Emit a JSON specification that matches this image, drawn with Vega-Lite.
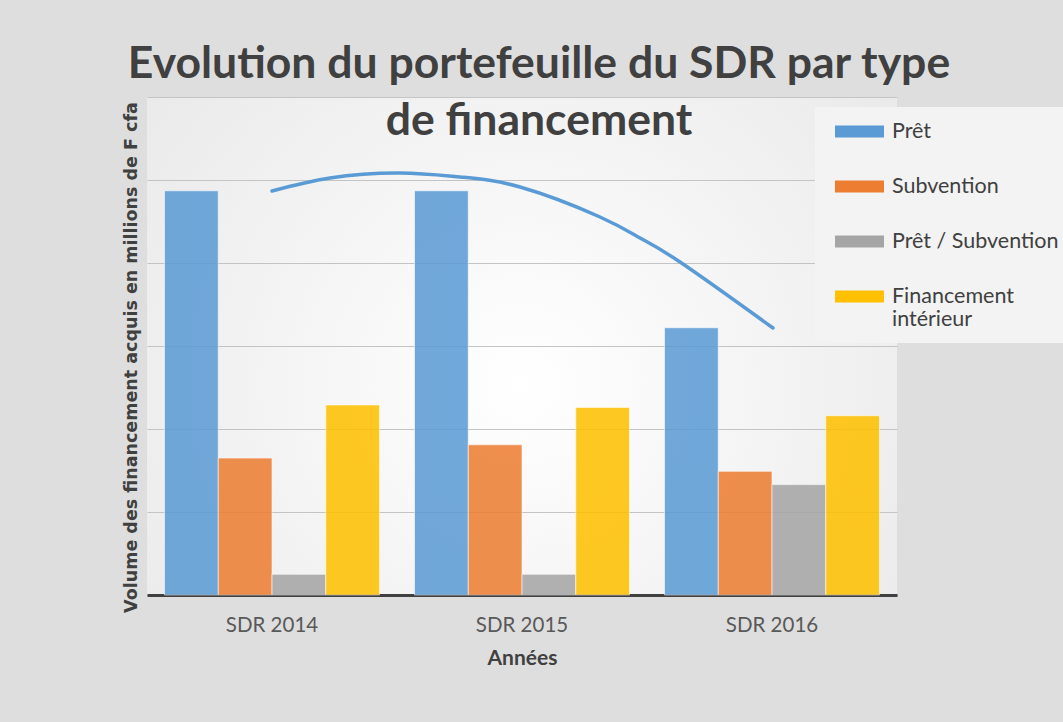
{
  "$schema": "https://vega.github.io/schema/vega-lite/v6.json",
  "width": 750,
  "height": 498,
  "autosize": {"type": "none"},
  "padding": {"left": 147, "top": 97, "right": 166, "bottom": 127},
  "background": "#dedede",
  "config": {
    "font": "Lato",
    "view": {
      "stroke": null,
      "fill": {"gradient": "radial", "x1": 0.5, "y1": 0.55, "r1": 0, "x2": 0.5, "y2": 0.55, "r2": 0.75,
        "stops": [{"offset": 0, "color": "#ffffff"}, {"offset": 1, "color": "#e6e6e6"}]}
    }
  },
  "title": {
    "text": ["Evolution du portefeuille du SDR par type", "de financement"],
    "font": "Lato",
    "fontSize": 44.5,
    "fontWeight": "bold",
    "color": "#404040",
    "lineHeight": 57,
    "anchor": "middle",
    "frame": "group",
    "dx": 17,
    "offset": -47
  },
  "datasets": {
    "bars": [
      {"annee": "SDR 2014", "type": "Prêt", "valeur": 4.87},
      {"annee": "SDR 2014", "type": "Subvention", "valeur": 1.65},
      {"annee": "SDR 2014", "type": "Prêt / Subvention", "valeur": 0.25},
      {"annee": "SDR 2014", "type": "Financement intérieur", "valeur": 2.29},
      {"annee": "SDR 2015", "type": "Prêt", "valeur": 4.87},
      {"annee": "SDR 2015", "type": "Subvention", "valeur": 1.81},
      {"annee": "SDR 2015", "type": "Prêt / Subvention", "valeur": 0.25},
      {"annee": "SDR 2015", "type": "Financement intérieur", "valeur": 2.26},
      {"annee": "SDR 2016", "type": "Prêt", "valeur": 3.22},
      {"annee": "SDR 2016", "type": "Subvention", "valeur": 1.49},
      {"annee": "SDR 2016", "type": "Prêt / Subvention", "valeur": 1.33},
      {"annee": "SDR 2016", "type": "Financement intérieur", "valeur": 2.16}
    ],
    "courbe": [
      {"px": 0.500, "py": 4.867},
      {"px": 0.732, "py": 5.024},
      {"px": 1.012, "py": 5.084},
      {"px": 1.252, "py": 5.036},
      {"px": 1.492, "py": 4.916},
      {"px": 1.812, "py": 4.554},
      {"px": 1.972, "py": 4.301},
      {"px": 2.132, "py": 4.012},
      {"px": 2.504, "py": 3.217}
    ]
  },
  "layer": [
    {
      "data": {"name": "bars"},
      "mark": {"type": "bar", "opacity": 0.86, "stroke": "#ffffff", "strokeWidth": 1, "strokeOpacity": 0.6},
      "encoding": {
        "x": {
          "field": "annee", "type": "nominal", "sort": null,
          "scale": {"paddingInner": 0.14, "paddingOuter": 0.07},
          "title": "Années",
          "axis": {
            "labelAngle": 0, "labelFont": "Lato", "labelFontSize": 20.5, "labelColor": "#595959",
            "labelPadding": 20, "ticks": false, "domainColor": "#404040", "domainWidth": 3,
            "titleFont": "Lato", "titleFontSize": 21, "titleFontWeight": "bold", "titleColor": "#404040",
            "titlePadding": 12
          }
        },
        "xOffset": {
          "field": "type", "type": "nominal",
          "sort": ["Prêt", "Subvention", "Prêt / Subvention", "Financement intérieur"],
          "scale": {"paddingInner": 0, "paddingOuter": 0}
        },
        "y": {
          "field": "valeur", "type": "quantitative",
          "scale": {"domain": [0, 6], "nice": false},
          "title": "Volume des financement acquis en millions de F cfa",
          "axis": {
            "labels": false, "ticks": false, "domain": false, "tickCount": 6,
            "gridColor": "#c4c4c4", "gridWidth": 1,
            "titleFont": "DejaVu Sans", "titleFontSize": 17.5, "titleFontWeight": "bold", "titleColor": "#404040",
            "titlePadding": 7, "titleY": 260
          }
        },
        "color": {
          "field": "type", "type": "nominal",
          "sort": ["Prêt", "Subvention", "Prêt / Subvention", "Financement intérieur"],
          "scale": {
            "domain": ["Prêt", "Subvention", "Prêt / Subvention", "Financement intérieur"],
            "range": ["#5b9bd5", "#ed7d31", "#a5a5a5", "#ffc000"]
          },
          "legend": {
            "orient": "none", "legendX": 668, "legendY": 10, "title": null,
            "fillColor": "#f3f3f3", "padding": 12,
            "symbolType": "M-2,-0.5H2V0.5H-2Z", "symbolSize": 600, "symbolStrokeWidth": 0, "symbolOpacity": 1,
            "symbolOffset": 20,
            "labelFont": "Lato", "labelFontSize": 21.5, "labelColor": "#404040", "labelOffset": 20,
            "labelLimit": 250, "rowPadding": 32,
            "labelExpr": "datum.label == 'Financement intérieur' ? ['Financement', 'intérieur'] : datum.label"
          }
        }
      }
    },
    {
      "data": {"name": "courbe"},
      "mark": {"type": "line", "interpolate": "natural", "color": "#5b9bd5", "strokeWidth": 3.5, "strokeCap": "round"},
      "encoding": {
        "x": {"field": "px", "type": "quantitative", "scale": {"domain": [0, 3], "nice": false, "zero": false}, "axis": null},
        "y": {"field": "py", "type": "quantitative"},
        "order": {"field": "px"}
      }
    }
  ],
  "resolve": {"scale": {"x": "independent"}}
}
